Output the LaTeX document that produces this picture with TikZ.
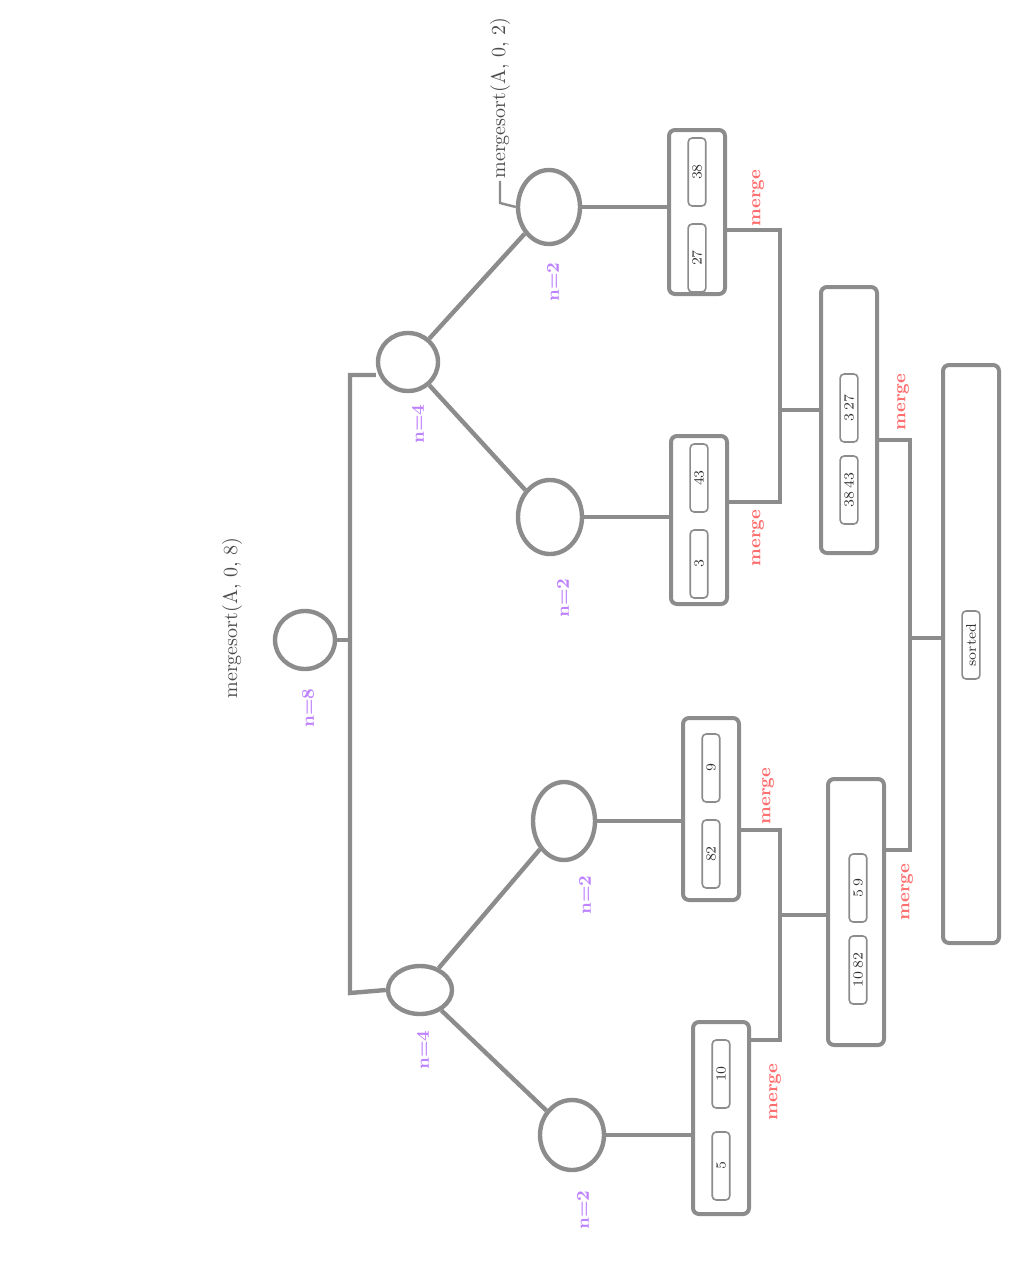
\documentclass[tikz,border=0pt]{standalone}
\usetikzlibrary{shapes.geometric}
\definecolor{ln}{RGB}{140,140,140}
\definecolor{pur}{RGB}{190,130,255}
\definecolor{rd}{RGB}{255,110,110}
\begin{document}
\begin{tikzpicture}[x=0.5pt,y=-0.5pt,
  conn/.style={draw=ln,line width=2.2pt},
  circ/.style={ellipse,draw=ln,line width=2.2pt,inner sep=0pt},
  leafbox/.style={draw=ln,line width=2pt,rounded corners=3pt,minimum width=28pt,minimum height=82pt,inner sep=0pt},
  item/.style={draw=ln,line width=0.8pt,rounded corners=2pt,rotate=90,font=\scriptsize,inner sep=2pt,text=black!80,minimum width=34pt},
  plab/.style={rotate=90,font=\small\bfseries,text=pur},
  rlab/.style={rotate=90,font=\small\bfseries,text=rd},
  note/.style={rotate=90,font=\normalsize,text=black!70,inner sep=1pt}]
\useasboundingbox (0,0) rectangle (1024,1280);
% tree nodes
\node[circ,minimum width=30pt,minimum height=29pt] (r) at (305,640) {};
\node[circ,minimum width=30pt,minimum height=29pt] (a) at (408,362) {};
\node[circ,minimum width=32pt,minimum height=24pt] (b) at (420,990) {};
\node[circ,minimum width=31pt,minimum height=37pt] (a1) at (549,207) {};
\node[circ,minimum width=32pt,minimum height=37pt] (a2) at (550,517) {};
\node[circ,minimum width=31pt,minimum height=39pt] (b1) at (564,821) {};
\node[circ,minimum width=32pt,minimum height=35pt] (b2) at (572,1135) {};
% notes
\node[note] (rt) at (232,618) {mergesort(A, 0, 8)};
\node[note] (at) at (500,98) {mergesort(A, 0, 2)};
\coordinate (atj) at (500,203);
\draw[conn,line width=1.2pt] (at.west) -- (atj) -- (a1.west);
% purple labels
\node[plab] (pr) at (308,708) {n=8};
\node[plab] (pa) at (418,424) {n=4};
\node[plab] (pb) at (423,1050) {n=4};
\node[plab] (pa1) at (553,282) {n=2};
\node[plab] (pa2) at (563,598) {n=2};
\node[plab] (pb1) at (585,895) {n=2};
\node[plab] (pb2) at (583,1210) {n=2};
% spine level 1
\coordinate (s0) at (350,640);
\coordinate (s1) at (350,375);
\coordinate (s2) at (350,993);
\draw[conn] (r.east) -- (s0);
\draw[conn] (a.west |- s1) -- (s1) -- (s2) -- (b.west);
\draw[conn] (a) -- (a1);
\draw[conn] (a) -- (a2);
\draw[conn] (b) -- (b1);
\draw[conn] (b) -- (b2);
% leaves
\node[leafbox] (l1) at (697,212) {};
\node[leafbox,minimum height=84pt] (l2) at (699,520) {};
\node[leafbox,minimum height=91pt] (l3) at (711,809) {};
\node[leafbox,minimum height=96pt] (l4) at (721,1118) {};
\node[item] (l1a) at (697,172) {38};
\node[item] (l1b) at (697,258) {27};
\node[item] (l2a) at (699,478) {43};
\node[item] (l2b) at (699,564) {3};
\node[item] (l3a) at (711,768) {9};
\node[item] (l3b) at (711,854) {82};
\node[item] (l4a) at (721,1074) {10};
\node[item] (l4b) at (721,1166) {5};
\draw[conn] (a1.east) -- (a1.east -| l1.west);
\draw[conn] (a2.east) -- (a2.east -| l2.west);
\draw[conn] (b1.east) -- (b1.east -| l3.west);
\draw[conn] (b2.east) -- (b2.east -| l4.west);
% red labels
\node[rlab] (q1) at (758,198) {merge};
\node[rlab] (q2) at (758,538) {merge};
\node[rlab] (q3) at (768,796) {merge};
\node[rlab] (q4) at (775,1092) {merge};
\node[rlab] (q5) at (903,402) {merge};
\node[rlab] (q6) at (907,892) {merge};
% merge boxes
\node[leafbox,minimum height=133pt] (m1) at (849,420) {};
\node[leafbox,minimum height=133pt] (m2) at (856,912) {};
\node[item] (m1a) at (849,408) {3\,27};
\node[item] (m1b) at (849,490) {38\,43};
\node[item] (m2a) at (858,888) {5\,9};
\node[item] (m2b) at (858,970) {10\,82};
\node[leafbox,minimum height=289pt] (f) at (971,654) {};
\node[item] (fa) at (971,645) {sorted};
% merge connectors
\coordinate (c1t) at (780,230);
\coordinate (c1b) at (780,502);
\coordinate (c1m) at (780,410);
\draw[conn] (l1.east |- c1t) -- (c1t) -- (c1b) -- (l2.east |- c1b);
\draw[conn] (c1m) -- (m1.west |- c1m);
\coordinate (c2t) at (780,830);
\coordinate (c2b) at (780,1040);
\coordinate (c2m) at (780,915);
\draw[conn] (l3.east |- c2t) -- (c2t) -- (c2b) -- (l4.east |- c2b);
\draw[conn] (c2m) -- (m2.west |- c2m);
\coordinate (c3t) at (910,440);
\coordinate (c3b) at (910,850);
\coordinate (c3m) at (910,638);
\draw[conn] (m1.east |- c3t) -- (c3t) -- (c3b) -- (m2.east |- c3b);
\draw[conn] (c3m) -- (f.west |- c3m);
\end{tikzpicture}
\end{document}
